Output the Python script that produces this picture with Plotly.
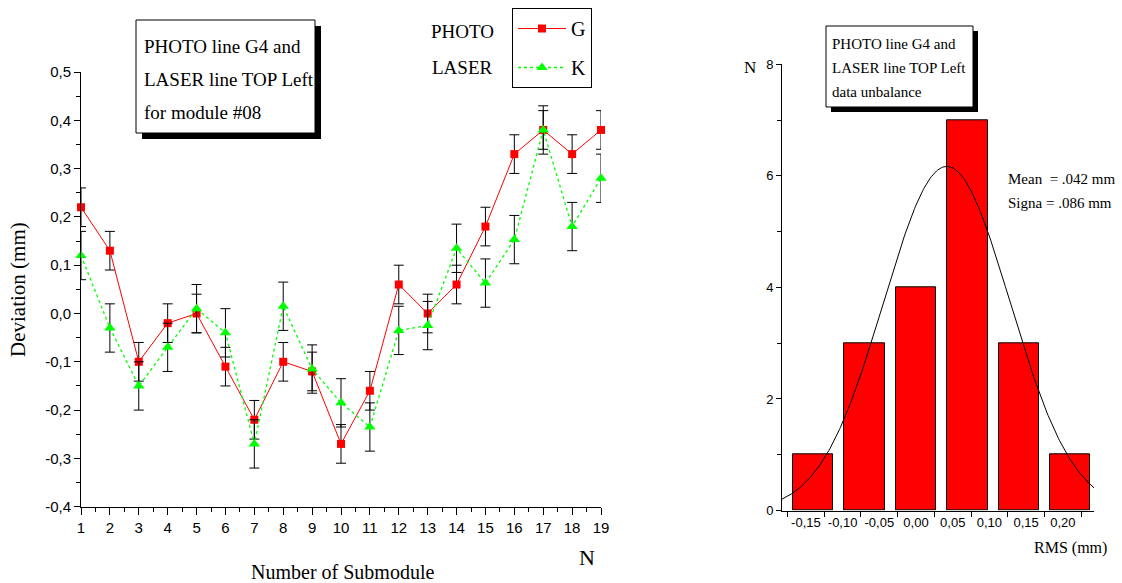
import numpy as np
import plotly.graph_objects as go

# ---------------- data ----------------
submodule = list(range(1, 20))
photo_G = [0.22, 0.13, -0.10, -0.02, 0.00, -0.11, -0.22, -0.10, -0.12, -0.27,
           -0.16, 0.06, 0.00, 0.06, 0.18, 0.33, 0.38, 0.33, 0.38]
laser_K = [0.12, -0.03, -0.15, -0.07, 0.01, -0.04, -0.27, 0.015, -0.115, -0.185,
           -0.235, -0.035, -0.025, 0.135, 0.063, 0.153, 0.38, 0.18, 0.28]
err_G = [0.04] * 19
err_K = [0.05] * 19

hist_centers = [-0.14, -0.07, 0.00, 0.07, 0.14, 0.21]
hist_counts = [1, 3, 4, 7, 3, 1]
bin_width = 0.07
fit_mean = 0.042
fit_sigma = 0.086

left_ytick_vals = [-0.4, -0.3, -0.2, -0.1, 0.0, 0.1, 0.2, 0.3, 0.4, 0.5]
left_ytick_text = ["-0,4", "-0,3", "-0,2", "-0,1", "0,0", "0,1", "0,2", "0,3", "0,4", "0,5"]
right_xtick_vals = [-0.15, -0.10, -0.05, 0.00, 0.05, 0.10, 0.15, 0.20]
right_xtick_text = ["-0,15", "-0,10", "-0,05", "0,00", "0,05", "0,10", "0,15", "0,20"]
right_ytick_vals = [0, 2, 4, 6, 8]

W, H = 1122, 583
SERIF = "Liberation Serif, Times New Roman, serif"
SANS = "Liberation Sans, Arial, sans-serif"


def px(x):
    return x / W


def py(y):
    return 1 - y / H


fig = go.Figure()

fig.add_trace(go.Scatter(
    x=submodule, y=photo_G, name="G", mode="lines+markers",
    line=dict(color="#ff0000", width=1),
    marker=dict(symbol="square", size=8, color="#ff0000"),
    error_y=dict(type="data", array=err_G, color="black", thickness=1, width=5),
    cliponaxis=False, legendgroup="g", xaxis="x", yaxis="y"))

fig.add_trace(go.Scatter(
    x=submodule, y=laser_K, name="K", mode="lines+markers",
    line=dict(color="#00ff00", width=1.3, dash="dot"),
    marker=dict(symbol="triangle-up", size=10, color="#00ff00"),
    error_y=dict(type="data", array=err_K, color="black", thickness=1, width=5),
    cliponaxis=False, legendgroup="k", xaxis="x", yaxis="y"))

fig.add_trace(go.Bar(
    x=hist_centers, y=hist_counts, width=0.055,
    marker=dict(color="#ff0000", line=dict(color="black", width=1)),
    showlegend=False, xaxis="x2", yaxis="y2"))

# Gaussian fit from the stated mean and sigma
gx = np.linspace(-0.1826, 0.2425, 300)
gy = sum(hist_counts) * bin_width / (fit_sigma * np.sqrt(2 * np.pi)) * \
    np.exp(-0.5 * ((gx - fit_mean) / fit_sigma) ** 2)
fig.add_trace(go.Scatter(
    x=gx, y=gy, mode="lines", line=dict(color="black", width=1),
    showlegend=False, xaxis="x2", yaxis="y2"))

axis_common = dict(showline=True, linecolor="black", linewidth=1, showgrid=False,
                   zeroline=False, ticks="outside", tickcolor="black", tickwidth=1,
                   automargin=False)

fig.update_layout(
    template="none",
    width=W, height=H, margin=dict(l=0, r=0, t=0, b=0, pad=0, autoexpand=False),
    paper_bgcolor="white", plot_bgcolor="white",
    bargap=0,
    xaxis=dict(**axis_common, domain=[px(81), px(601)], range=[1, 19],
               tickmode="linear", tick0=1, dtick=1, ticklen=7,
               tickfont=dict(family=SANS, size=15, color="black"),
               minor=dict(ticks="outside", dtick=0.5, tick0=1, ticklen=4, tickcolor="black"),
               anchor="y"),
    yaxis=dict(**axis_common, domain=[py(506.7), py(72)], range=[-0.4, 0.5],
               tickmode="array", tickvals=left_ytick_vals, ticktext=left_ytick_text,
               ticklen=6, tickfont=dict(family=SANS, size=15, color="black"),
               minor=dict(ticks="outside", tickmode="linear", tick0=0, dtick=0.05,
                          ticklen=4, tickcolor="black"),
               anchor="x"),
    xaxis2=dict(**axis_common, domain=[px(782), px(1094)], range=[-0.1826, 0.2425],
                tickmode="array", tickvals=right_xtick_vals, ticktext=right_xtick_text,
                ticklen=0, tickfont=dict(family=SANS, size=13, color="black"),
                minor=dict(ticks="outside", tickmode="linear", tick0=-0.175, dtick=0.05,
                           ticklen=5, tickcolor="black"),
                anchor="y2"),
    yaxis2=dict(**axis_common, domain=[py(510.5), py(64.3)], range=[0, 8],
                tickmode="array", tickvals=right_ytick_vals, ticklen=5,
                tickfont=dict(family=SANS, size=13, color="black"),
                minor=dict(ticks="outside", tickmode="linear", tick0=0, dtick=1,
                           ticklen=4, tickcolor="black"),
                anchor="x2"),
    legend=dict(x=px(512), y=py(8), xanchor="left", yanchor="top",
                bordercolor="black", borderwidth=1, bgcolor="white",
                font=dict(family=SERIF, size=20, color="black"),
                itemwidth=48, traceorder="grouped", tracegroupgap=10),
    showlegend=True,
)

shapes = []
annotations = []


def text_box(x0, y0, x1, y1, lines, lx, ly, size, shadow=6):
    shapes.append(dict(type="rect", xref="paper", yref="paper",
                       x0=px(x0 + shadow), x1=px(x1 + shadow),
                       y0=py(y1 + shadow), y1=py(y0 + shadow),
                       fillcolor="black", line=dict(width=0), layer="above"))
    shapes.append(dict(type="rect", xref="paper", yref="paper",
                       x0=px(x0), x1=px(x1), y0=py(y1), y1=py(y0),
                       fillcolor="white", line=dict(color="black", width=1), layer="above"))
    for t, yy in zip(lines, ly):
        annotations.append(dict(text=t, xref="paper", yref="paper", x=px(lx), y=py(yy),
                                xanchor="left", yanchor="middle", showarrow=False,
                                font=dict(family=SERIF, size=size, color="black")))


text_box(136, 20, 315, 133, ["PHOTO line G4 and", "LASER line TOP Left", "for module #08"],
         142, [47, 80, 112], 19)
text_box(826, 26, 973, 107, ["PHOTO line G4 and", "LASER line TOP Left", "data unbalance"],
         830, [44, 68, 92], 15, shadow=5)


def label(t, x, y, size, xanchor="center", angle=0):
    annotations.append(dict(text=t, xref="paper", yref="paper", x=px(x), y=py(y),
                            xanchor=xanchor, yanchor="middle", showarrow=False,
                            textangle=angle,
                            font=dict(family=SERIF, size=size, color="black")))


label("PHOTO", 462, 32, 19)
label("LASER", 462, 67, 19)
label("Deviation (mm)", 18, 290, 21, angle=-90)
label("Number of Submodule", 342, 572, 20)
label("N", 587, 557, 22)
label("N", 750, 67, 17)
label("Mean  = .042 mm", 1006, 179, 15, xanchor="left")
label("Signa = .086 mm", 1006, 203, 15, xanchor="left")
label("RMS (mm)", 1032, 548, 16, xanchor="left")

fig.update_layout(shapes=shapes, annotations=annotations)

fig.write_html("out.html", config={"displayModeBar": False},
               post_script="document.body.style.margin='0';document.body.style.padding='0';")
